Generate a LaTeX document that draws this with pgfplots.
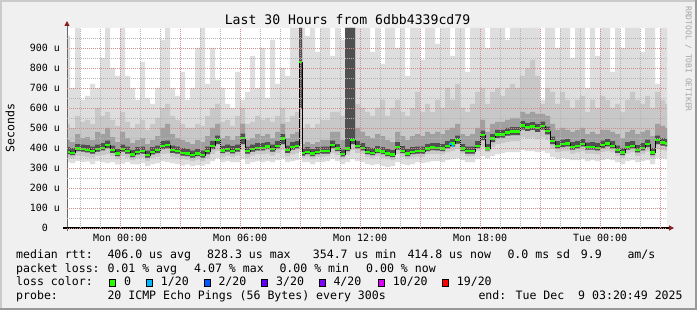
\documentclass[border=0pt]{standalone}
\usepackage{fontspec}
\setmainfont{DejaVu Sans Mono}
\usepackage{pgfplots}
\pgfplotsset{compat=1.18}
\usepackage{pgfplotstable}
\usepgfplotslibrary{fillbetween}
\usetikzlibrary{arrows.meta}
\definecolor{bgc}{HTML}{F0F0F0}
\definecolor{shadea}{HTML}{CBCBCB}
\definecolor{shadeb}{HTML}{999999}
\definecolor{mgrid}{HTML}{D08C8C}
\definecolor{ngrid}{HTML}{B4B4B4}
\definecolor{arrowc}{HTML}{8B1E1E}
\definecolor{sa}{HTML}{DEDEDE}
\definecolor{sb}{HTML}{C8C8C8}
\definecolor{sc}{HTML}{A0A0A0}
\definecolor{sd}{HTML}{505050}
\definecolor{lca}{HTML}{26FF00}
\definecolor{lcb}{HTML}{00B8FF}
\definecolor{lcc}{HTML}{0059FF}
\definecolor{lcd}{HTML}{5E00FF}
\definecolor{lce}{HTML}{7E00FF}
\definecolor{lcf}{HTML}{DD00FF}
\definecolor{lcg}{HTML}{FF0000}
\newcommand\lf{\fontsize{11.6}{13}\selectfont}
\newcommand\tf{\fontsize{10}{12}\selectfont}
\newcommand\lt[3]{\node[anchor=base west, inner sep=0pt, font=\lf] at (#1,#2) {#3};}
\newcommand\lbox[1]{{\setlength\fboxsep{0pt}\setlength\fboxrule{0.8bp}\fcolorbox{black}{#1}{\rule{0pt}{5.5bp}\rule{5.5bp}{0pt}}}}
\pgfplotstableread{
x min lo2 lo1 med hi1 hi2 max hc
-2.653 330 352 370 382 440 520 960 404
-2.5 325 350 365 377 430 500 700 399
-2.25 335 360 385 398 470 560 1000 420
-2 330 358 382 395 450 530 640 417
-1.75 332 355 378 392 455 540 660 414
-1.5 320 352 372 385 440 520 720 407
-1.25 335 362 382 395 480 600 700 417
-1 330 365 388 402 470 560 850 424
-0.75 325 370 400 415 500 580 1000 437
-0.5 330 358 376 390 455 540 800 412
-0.25 318 345 360 373 430 510 760 395
0 322 360 382 395 480 580 1000 417
0.25 330 352 372 385 450 530 760 407
0.5 320 340 355 368 425 500 700 390
0.75 318 350 368 382 440 520 640 404
1 325 352 372 385 450 540 830 407
1.25 310 335 352 365 420 490 650 387
1.5 320 350 368 382 440 520 620 404
1.75 325 356 375 390 460 550 700 412
2 335 370 395 412 500 600 940 434
2.25 330 372 398 415 520 620 1000 437
2.5 325 356 376 390 470 560 700 412
2.75 320 352 372 385 450 540 660 407
3 312 345 362 377 440 520 780 399
3.25 318 342 360 373 430 500 640 395
3.5 310 335 352 365 420 500 700 387
3.75 315 342 360 373 440 520 900 395
4 312 335 352 365 430 510 1000 387
4.25 320 350 370 385 460 560 720 407
4.5 335 370 395 412 500 600 900 434
4.75 350 385 420 440 520 620 740 462
5 330 355 375 388 450 530 700 410
5.25 335 362 382 395 460 540 620 417
5.5 330 355 373 387 440 510 600 409
5.75 330 362 382 395 460 560 780 417
6 345 390 420 450 520 600 640 472
6.25 320 352 372 385 440 520 680 407
6.5 330 362 382 395 450 530 860 417
6.75 335 370 388 402 470 560 700 424
7 330 368 388 402 460 540 900 424
7.25 335 372 394 408 470 550 650 430
7.5 330 362 382 395 450 530 940 417
7.75 340 375 398 412 480 560 720 434
8 350 390 420 448 520 600 800 470
8.25 330 358 376 390 450 530 760 412
8.5 335 368 392 407 470 560 1000 429
8.75 340 375 398 412 480 580 1000 434
8.95 380 420 600 828 1000 1000 1000 1000
9.1 330 350 362 375 420 500 1000 397
9.25 330 355 370 382 430 520 960 404
9.5 320 345 360 373 420 500 1000 395
9.75 330 355 370 382 430 520 880 404
10 330 356 372 385 440 540 1000 407
10.25 335 358 372 385 440 540 1000 407
10.5 345 375 400 415 480 580 860 437
10.75 335 365 384 398 480 580 1000 420
11 320 345 358 370 440 560 940 392
11.25 330 365 385 398 1000 1000 1000 1000
11.5 345 390 420 440 1000 1000 1000 1000
11.75 335 375 398 412 500 620 1000 434
12 330 370 388 402 480 600 1000 424
12.25 320 355 370 382 460 580 1000 404
12.5 315 348 364 377 450 560 880 399
12.75 320 358 375 388 470 600 1000 410
13 310 350 370 383 460 640 820 405
13.25 305 345 360 373 440 560 1000 395
13.5 310 340 355 368 430 600 1000 390
13.75 330 370 392 407 480 640 900 429
14 320 355 374 387 460 580 1000 409
14.25 315 345 360 373 440 560 760 395
14.5 320 352 370 382 460 600 1000 404
14.75 330 356 372 385 470 680 1000 407
15 325 355 372 385 460 580 840 407
15.25 330 368 385 398 480 620 1000 420
15.5 335 370 390 403 470 580 1000 425
15.75 335 370 388 402 480 640 920 424
16 330 368 385 398 470 600 1000 420
16.25 340 378 398 412 490 700 1000 434
16.5 345 385 408 423 500 640 860 445
16.75 350 395 422 440 520 720 1000 462
17 340 372 385 398 470 600 1000 420
17.25 330 358 372 385 460 580 780 407
17.5 330 360 372 385 470 620 1000 407
17.75 345 385 400 412 500 680 1000 434
18 360 405 440 465 540 700 1000 487
18.25 350 380 388 398 480 620 900 420
18.5 360 405 430 448 520 680 1000 470
18.75 370 420 450 468 530 700 1000 490
19 375 425 452 468 530 660 1000 490
19.25 380 430 462 478 540 700 940 500
19.5 380 435 465 482 550 720 1000 504
19.75 380 435 465 482 550 700 1000 504
20 390 455 492 512 580 760 1000 534
20.25 385 450 485 502 570 800 1000 524
20.5 385 452 490 507 580 840 1000 529
20.75 380 445 480 498 570 760 1000 520
21 385 455 492 510 570 620 640 532
21.25 375 440 468 485 560 700 1000 507
21.5 355 395 420 435 520 680 1000 457
21.75 345 380 398 412 490 620 900 434
22 350 385 405 420 500 680 1000 442
22.25 345 385 408 423 490 640 1000 445
22.5 340 372 392 407 480 600 850 429
22.75 340 378 398 412 490 640 1000 434
23 345 385 408 422 500 660 1000 444
23.25 335 372 392 405 470 580 700 427
23.5 340 372 392 407 480 640 1000 429
23.75 335 368 388 402 470 600 860 424
24 340 380 400 415 490 660 1000 437
24.25 345 385 408 423 490 640 1000 445
24.5 340 378 398 412 480 600 780 434
24.75 330 360 376 390 470 620 1000 412
25 320 350 365 378 450 580 900 400
25.25 335 372 392 407 480 640 1000 429
25.5 340 378 398 412 490 680 1000 434
25.75 330 360 378 392 470 640 1000 414
26 335 370 388 402 480 620 880 424
26.25 340 382 405 420 490 660 1000 442
26.5 320 350 365 378 460 600 1000 400
26.75 350 395 420 440 520 680 720 462
27 350 390 412 428 510 640 1000 450
27.25 345 385 408 423 500 620 1000 445
27.347 345 385 408 423 500 620 1000 445
}\smoke
\begin{document}
\begin{tikzpicture}[x=1bp,y=1bp]
\fill[bgc] (0,0) rectangle (697,310);
\fill[shadea] (0,308) rectangle (697,310);
\fill[shadea] (0,0) rectangle (2,310);
\fill[shadeb] (0,0) rectangle (697,2);
\fill[shadeb] (695,0) rectangle (697,310);
\begin{axis}[name=ax,
  at={(67bp,82bp)}, anchor=south west,
  scale only axis, width=600bp, height=200bp,
  xmin=-2.6531, xmax=27.3469, ymin=0, ymax=1000,
  axis on top,
  fill between/on layer=main,
  axis line style={draw=none},
  tick style={draw=none},
  xtick={0,3,...,27},
  xticklabels={Mon 00:00,,Mon 06:00,,Mon 12:00,,Mon 18:00,,Tue 00:00,},
  minor xtick={-2,-1,1,2,4,5,7,8,10,11,13,14,16,17,19,20,22,23,25,26},
  ytick={0,100,...,900},
  yticklabels={0\hphantom{\ u},100 u,200 u,300 u,400 u,500 u,600 u,700 u,800 u,900 u},
  minor ytick={50,150,...,950},
  grid=both,
  major grid style={color=mgrid, dash pattern=on 1bp off 1bp, line width=0.8bp},
  minor grid style={color=ngrid, dash pattern=on 1bp off 1bp, line width=0.8bp},
  xticklabel style={font=\tf, anchor=north, inner sep=0pt, yshift=-6bp},
  yticklabel style={font=\tf, anchor=east, inner sep=0pt, xshift=-7bp},
  /pgf/number format/assume math mode=true,
]
\fill[white] (rel axis cs:0,0) rectangle (rel axis cs:1,1);
\addplot[name path=pmin, draw=none, const plot] table[x=x,y=min]{\smoke};
\addplot[name path=pmax, draw=none, const plot] table[x=x,y=max]{\smoke};
\addplot[name path=plob, draw=none, const plot] table[x=x,y=lo2]{\smoke};
\addplot[name path=phib, draw=none, const plot] table[x=x,y=hi2]{\smoke};
\addplot[name path=ploa, draw=none, const plot] table[x=x,y=lo1]{\smoke};
\addplot[name path=phia, draw=none, const plot] table[x=x,y=hi1]{\smoke};
\addplot[name path=phic, draw=none, const plot] table[x=x,y=hc]{\smoke};
\addplot[fill=sa, draw=none] fill between[of=pmax and pmin];
\addplot[fill=sb, draw=none] fill between[of=phib and plob];
\addplot[fill=sc, draw=none] fill between[of=phia and ploa];
\addplot[fill=sd, draw=none] fill between[of=phic and ploa];
\addplot[const plot, black, line width=0.9bp] table[x=x,y=med]{\smoke};
\addplot[jump mark left, lca, line width=2.2bp] table[x=x,y=med]{\smoke};
\addplot[jump mark left, lcb, line width=2.2bp] coordinates {(16.47,420) (16.6,412) (16.68,412)};
\end{axis}
\draw[black!60, line width=1bp, -{Triangle[length=5bp,width=5bp,color=arrowc]}] ([yshift=-3bp]ax.south west) -- ([yshift=7bp]ax.north west);
\draw[black, line width=1.3bp, -{Triangle[length=5bp,width=5bp,color=arrowc]}] ([xshift=-4bp]ax.south west) -- ([xshift=7bp]ax.south east);
\node[anchor=base, inner sep=0pt, font=\fontsize{13.2}{15}\selectfont] at (347.5,285.7) {Last 30 Hours from 6dbb4339cd79};
\node[rotate=90, inner sep=0pt, font=\lf] at (10,182) {Seconds};
\node[rotate=-90, inner sep=0pt, font=\fontsize{8}{9}\selectfont, text=black!35] at (688.5,251) {RRDTOOL / TOBI OETIKER};
\lt{16}{51.5}{median rtt:}
\lt{107.3}{51.5}{406.0 us avg}
\lt{207}{51.5}{828.3 us max}
\lt{312.7}{51.5}{354.7 us min}
\lt{407.3}{51.5}{414.8 us now}
\lt{507.3}{51.5}{0.0 ms sd}
\lt{580.7}{51.5}{9.9}
\lt{627.3}{51.5}{am/s}
\lt{16}{38}{packet loss:}
\lt{107.3}{38}{0.01 \% avg}
\lt{194}{38}{4.07 \% max}
\lt{279.3}{38}{0.00 \% min}
\lt{366}{38}{0.00 \% now}
\lt{16}{24.3}{loss color:}
\lt{108.7}{24.3}{\lbox{lca}}
\lt{124}{24.3}{0}
\lt{145.7}{24.3}{\lbox{lcb}}
\lt{160.7}{24.3}{1/20}
\lt{203.3}{24.3}{\lbox{lcc}}
\lt{218.3}{24.3}{2/20}
\lt{260.7}{24.3}{\lbox{lcd}}
\lt{276}{24.3}{3/20}
\lt{318.3}{24.3}{\lbox{lce}}
\lt{333.3}{24.3}{4/20}
\lt{377.7}{24.3}{\lbox{lcf}}
\lt{392.7}{24.3}{10/20}
\lt{441.7}{24.3}{\lbox{lcg}}
\lt{456.7}{24.3}{19/20}
\lt{16}{10.7}{probe:}
\lt{107.3}{10.7}{20 ICMP Echo Pings (56 Bytes) every 300s}
\lt{478.3}{10.7}{end: Tue Dec \ 9 03:20:49 2025}
\pgfresetboundingbox
\path[use as bounding box] (0,0) rectangle (697,310);
\end{tikzpicture}
\end{document}
